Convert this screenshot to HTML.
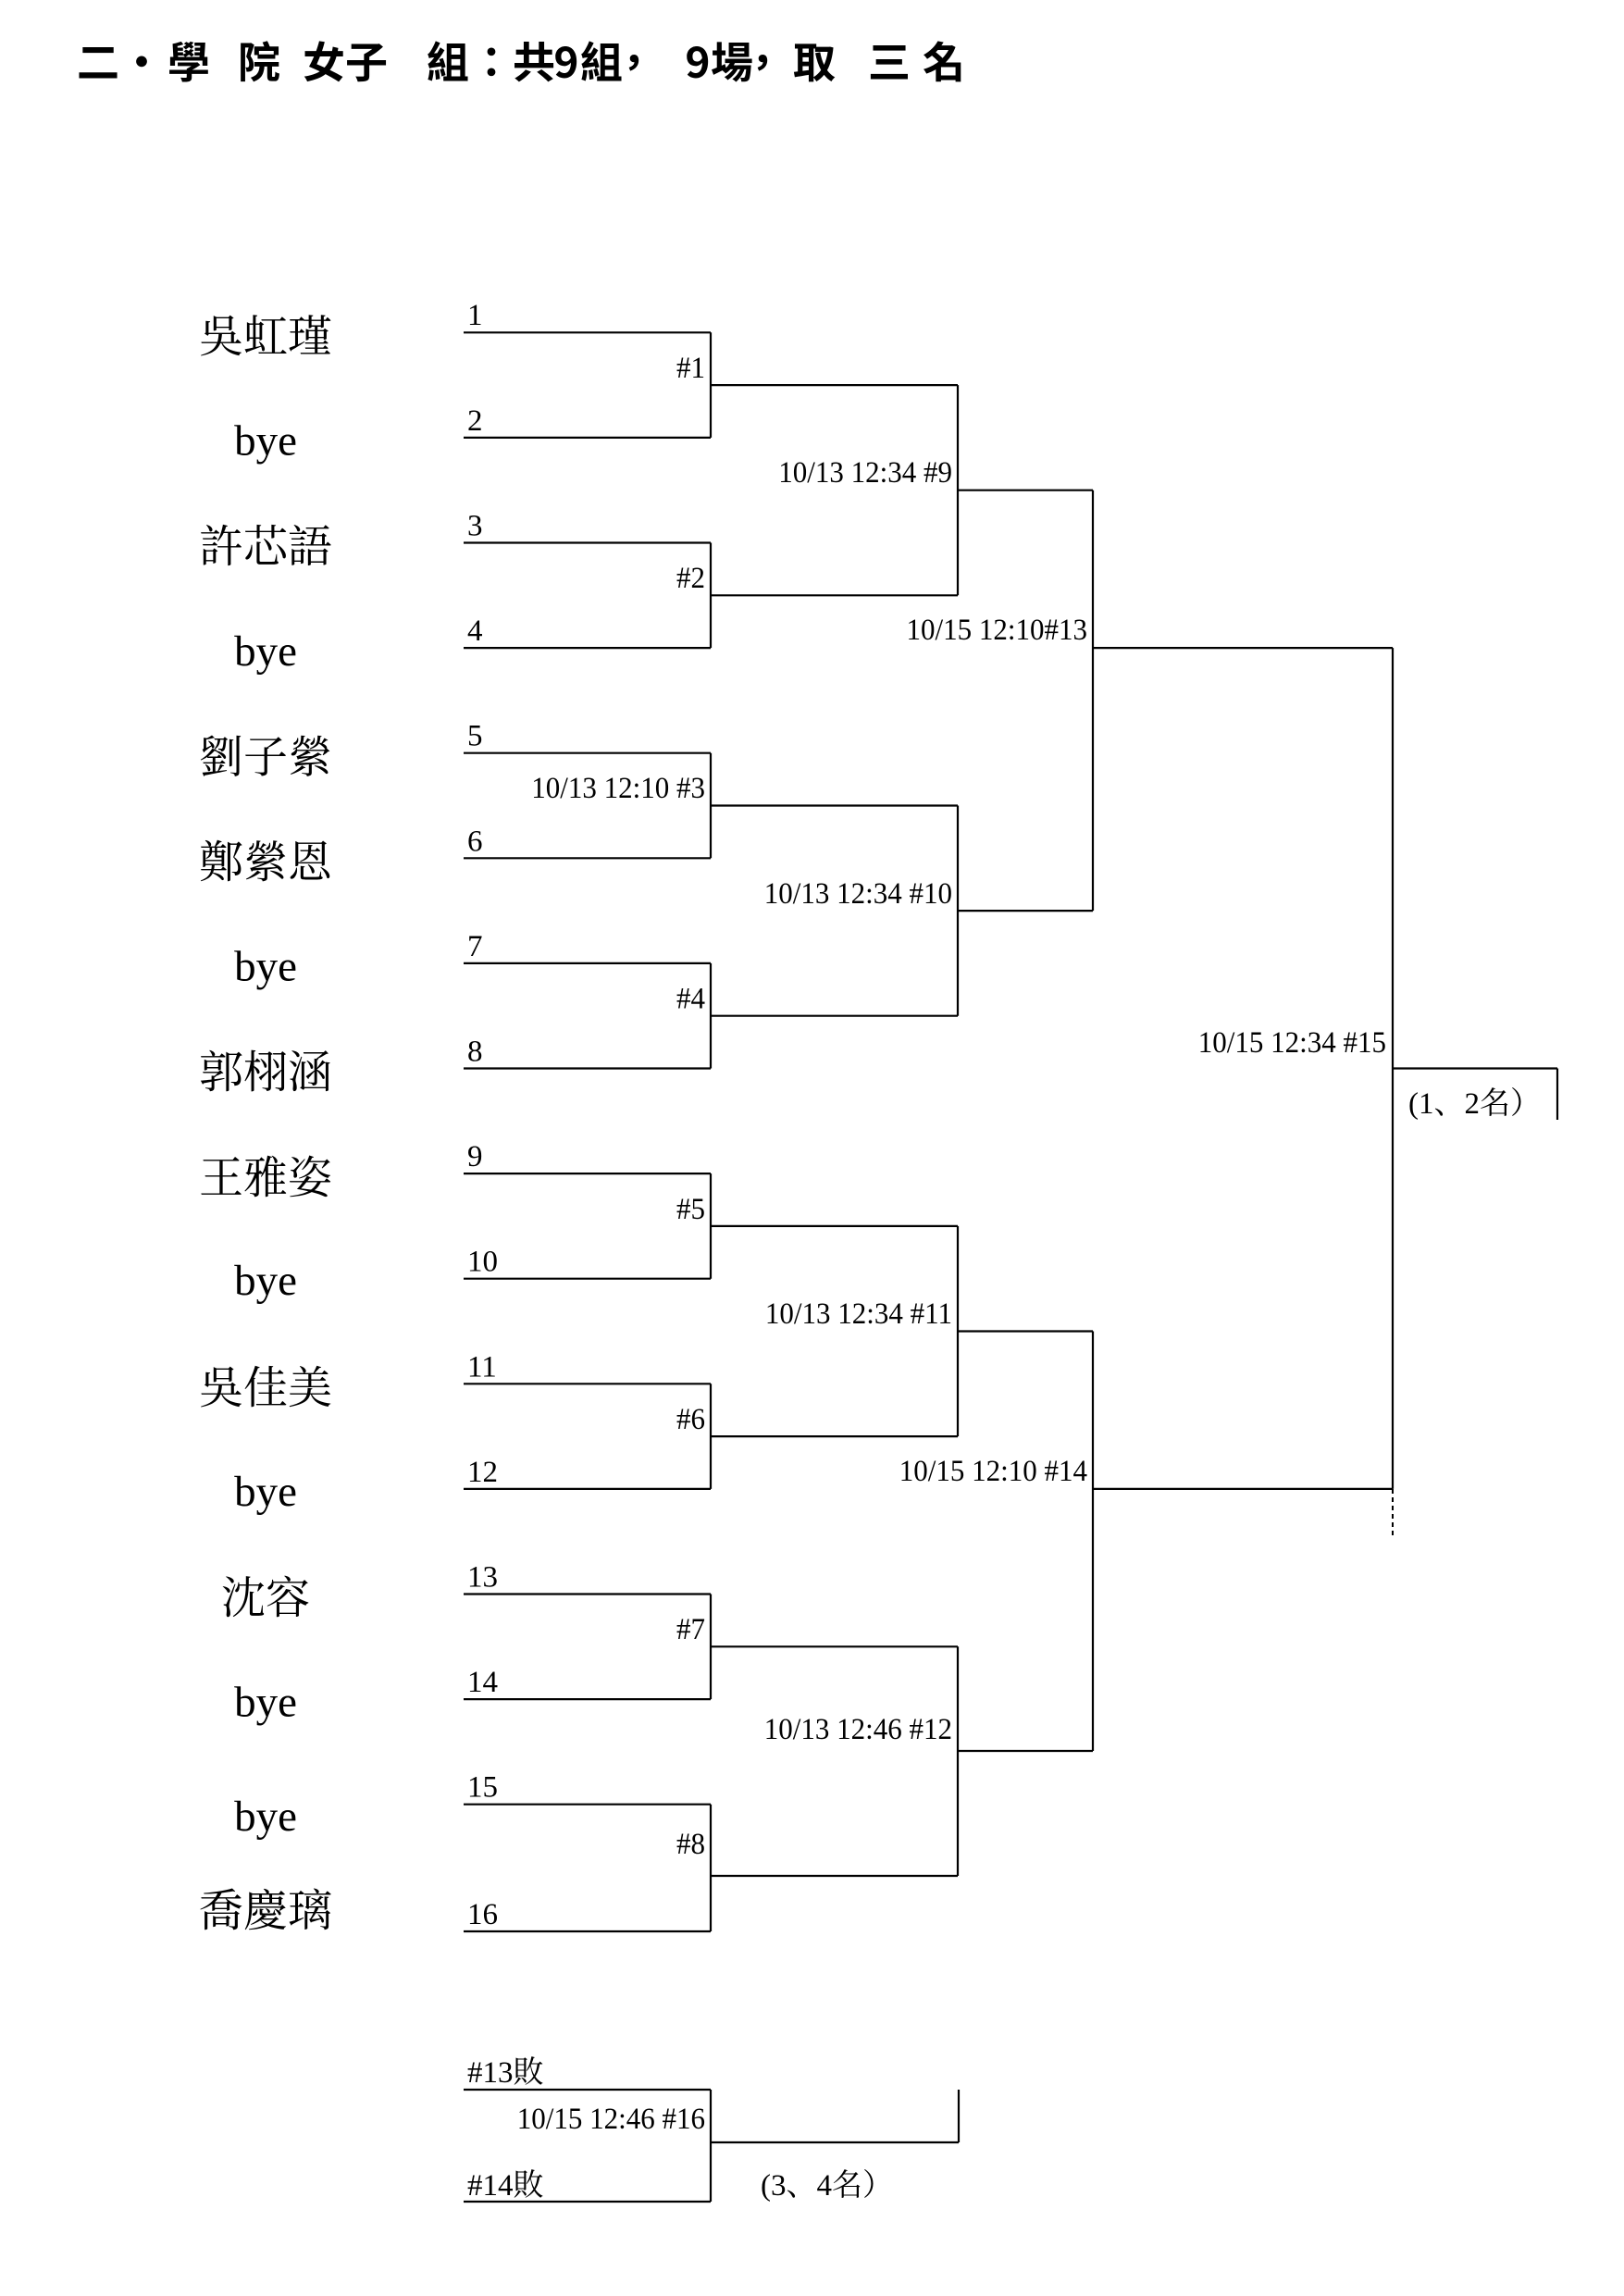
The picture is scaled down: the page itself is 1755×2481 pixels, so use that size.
<!DOCTYPE html>
<html>
<head>
<meta charset="utf-8">
<style>
  html, body { margin: 0; padding: 0; background: #fff; }
  body { width: 1755px; height: 2481px; overflow: hidden; }
  svg { display: block; }
  .title { font-family: "Noto Sans CJK TC", "Noto Sans CJK SC", sans-serif; font-weight: 700; font-size: 46px; fill: #000; }
  .name { font-family: "Liberation Serif", "Noto Serif CJK SC", serif; font-size: 48px; fill: #000; }
  .bye { font-family: "Liberation Serif", serif; font-size: 47px; fill: #000; }
  .lbl { font-family: "Liberation Serif", "Noto Serif CJK SC", serif; font-size: 33px; fill: #000; }
  .ln { stroke: #000; stroke-width: 2.2; fill: none; }
</style>
</head>
<body>
<svg width="1755" height="2481" viewBox="0 0 1755 2481" xmlns="http://www.w3.org/2000/svg">
  <rect x="0" y="0" width="1755" height="2481" fill="#fff"/>

  <!-- Title -->
  <g class="title" text-anchor="middle">
    <text x="106" y="84">二</text>
    <text x="153" y="84">·</text>
    <text x="204" y="84">學</text>
    <text x="280" y="84">院</text>
    <text x="350" y="84">女</text>
    <text x="396" y="84">子</text>
    <text x="484" y="84">組</text>
    <text x="531" y="84">：</text>
    <text x="577" y="84">共</text>
    <text x="612" y="84">9</text>
    <text x="650" y="84">組</text>
    <text x="685" y="84">，</text>
    <text x="754" y="84">9</text>
    <text x="791" y="84">場</text>
    <text x="824" y="84">，</text>
    <text x="880" y="84">取</text>
    <text x="961" y="84">三</text>
    <text x="1020" y="84">名</text>
  </g>

  <!-- Names -->
  <g text-anchor="middle">
    <text class="name" x="287" y="380">吳虹瑾</text>
    <text class="bye" x="287" y="491.6">bye</text>
    <text class="name" x="287" y="607.2">許芯語</text>
    <text class="bye" x="287" y="718.8">bye</text>
    <text class="name" x="287" y="834.4">劉子縈</text>
    <text class="name" x="287" y="948">鄭縈恩</text>
    <text class="bye" x="287" y="1059.6">bye</text>
    <text class="name" x="287" y="1175.2">郭栩涵</text>
    <text class="name" x="287" y="1288.8">王雅姿</text>
    <text class="bye" x="287" y="1399">bye</text>
    <text class="name" x="287" y="1516">吳佳美</text>
    <text class="bye" x="287" y="1627">bye</text>
    <text class="name" x="287" y="1743">沈容</text>
    <text class="bye" x="287" y="1854.4">bye</text>
    <text class="bye" x="287" y="1978">bye</text>
    <text class="name" x="287" y="2081">喬慶璃</text>
  </g>

  <!-- Slot numbers -->
  <g class="lbl">
    <text x="505" y="351">1</text>
    <text x="505" y="464.9">2</text>
    <text x="505" y="578.5">3</text>
    <text x="505" y="692.1">4</text>
    <text x="505" y="805.7">5</text>
    <text x="505" y="919.3">6</text>
    <text x="505" y="1032.9">7</text>
    <text x="505" y="1146.5">8</text>
    <text x="505" y="1260.1">9</text>
    <text x="505" y="1373.7">10</text>
    <text x="505" y="1487.3">11</text>
    <text x="505" y="1600.9">12</text>
    <text x="505" y="1714.5">13</text>
    <text x="505" y="1828.1">14</text>
    <text x="505" y="1941.7">15</text>
    <text x="505" y="2079">16</text>
  </g>

  <!-- Bracket lines -->
  <g class="ln">
    <line x1="501" y1="359.3" x2="768" y2="359.3"/>
    <line x1="501" y1="472.9" x2="768" y2="472.9"/>
    <line x1="501" y1="586.5" x2="768" y2="586.5"/>
    <line x1="501" y1="700.1" x2="768" y2="700.1"/>
    <line x1="501" y1="813.7" x2="768" y2="813.7"/>
    <line x1="501" y1="927.3" x2="768" y2="927.3"/>
    <line x1="501" y1="1040.9" x2="768" y2="1040.9"/>
    <line x1="501" y1="1154.5" x2="768" y2="1154.5"/>
    <line x1="501" y1="1268.1" x2="768" y2="1268.1"/>
    <line x1="501" y1="1381.7" x2="768" y2="1381.7"/>
    <line x1="501" y1="1495.3" x2="768" y2="1495.3"/>
    <line x1="501" y1="1608.9" x2="768" y2="1608.9"/>
    <line x1="501" y1="1722.5" x2="768" y2="1722.5"/>
    <line x1="501" y1="1836.1" x2="768" y2="1836.1"/>
    <line x1="501" y1="1949.7" x2="768" y2="1949.7"/>
    <line x1="501" y1="2087" x2="768" y2="2087"/>

    <line x1="768" y1="359.3" x2="768" y2="472.9"/>
    <line x1="768" y1="586.5" x2="768" y2="700.1"/>
    <line x1="768" y1="813.7" x2="768" y2="927.3"/>
    <line x1="768" y1="1040.9" x2="768" y2="1154.5"/>
    <line x1="768" y1="1268.1" x2="768" y2="1381.7"/>
    <line x1="768" y1="1495.3" x2="768" y2="1608.9"/>
    <line x1="768" y1="1722.5" x2="768" y2="1836.1"/>
    <line x1="768" y1="1949.7" x2="768" y2="2087"/>

    <line x1="768" y1="416.1" x2="1035" y2="416.1"/>
    <line x1="768" y1="643.3" x2="1035" y2="643.3"/>
    <line x1="768" y1="870.5" x2="1035" y2="870.5"/>
    <line x1="768" y1="1097.7" x2="1035" y2="1097.7"/>
    <line x1="768" y1="1324.9" x2="1035" y2="1324.9"/>
    <line x1="768" y1="1552.1" x2="1035" y2="1552.1"/>
    <line x1="768" y1="1779.3" x2="1035" y2="1779.3"/>
    <line x1="768" y1="2027" x2="1035" y2="2027"/>

    <line x1="1035" y1="416.1" x2="1035" y2="643.3"/>
    <line x1="1035" y1="870.5" x2="1035" y2="1097.7"/>
    <line x1="1035" y1="1324.9" x2="1035" y2="1552.1"/>
    <line x1="1035" y1="1779.3" x2="1035" y2="2027"/>

    <line x1="1035" y1="529.7" x2="1181" y2="529.7"/>
    <line x1="1035" y1="984.1" x2="1181" y2="984.1"/>
    <line x1="1035" y1="1438.5" x2="1181" y2="1438.5"/>
    <line x1="1035" y1="1892" x2="1181" y2="1892"/>

    <line x1="1181" y1="529.7" x2="1181" y2="984.1"/>
    <line x1="1181" y1="1438.5" x2="1181" y2="1892"/>

    <line x1="1181" y1="700.1" x2="1505" y2="700.1"/>
    <line x1="1181" y1="1608.9" x2="1505" y2="1608.9"/>

    <line x1="1505" y1="700.1" x2="1505" y2="1608.9"/>

    <line x1="1505" y1="1154.5" x2="1683" y2="1154.5"/>
    <line x1="1683" y1="1154.5" x2="1683" y2="1210"/>

    <line x1="501" y1="2258" x2="768" y2="2258"/>
    <line x1="501" y1="2379" x2="768" y2="2379"/>
    <line x1="768" y1="2258" x2="768" y2="2379"/>
    <line x1="768" y1="2315" x2="1036" y2="2315"/>
    <line x1="1036" y1="2258" x2="1036" y2="2315"/>
  </g>
  <line x1="1505" y1="1609" x2="1505" y2="1663" stroke="#000" stroke-width="2" stroke-dasharray="5,4"/>

  <!-- Match labels (slightly condensed) -->
  <g class="lbl" text-anchor="end">
    <text transform="translate(762,408) scale(0.94,1)">#1</text>
    <text transform="translate(762,635) scale(0.94,1)">#2</text>
    <text transform="translate(762,862) scale(0.94,1)">10/13 12:10 #3</text>
    <text transform="translate(762,1089.5) scale(0.94,1)">#4</text>
    <text transform="translate(762,1317) scale(0.94,1)">#5</text>
    <text transform="translate(762,1544) scale(0.94,1)">#6</text>
    <text transform="translate(762,1771) scale(0.94,1)">#7</text>
    <text transform="translate(762,2003) scale(0.94,1)">#8</text>

    <text transform="translate(1029,521) scale(0.94,1)">10/13 12:34 #9</text>
    <text transform="translate(1029,976) scale(0.94,1)">10/13 12:34 #10</text>
    <text transform="translate(1029,1430) scale(0.94,1)">10/13 12:34 #11</text>
    <text transform="translate(1029,1879) scale(0.94,1)">10/13 12:46 #12</text>

    <text transform="translate(1175,691) scale(0.94,1)">10/15 12:10#13</text>
    <text transform="translate(1175,1600) scale(0.94,1)">10/15 12:10 #14</text>

    <text transform="translate(1498,1137) scale(0.94,1)">10/15 12:34 #15</text>

    <text transform="translate(762,2300) scale(0.94,1)">10/15 12:46 #16</text>
  </g>

  <g class="lbl">
    <text x="1522" y="1203">(1、2名）</text>
    <text x="505" y="2250">#13敗</text>
    <text x="505" y="2372">#14敗</text>
    <text x="822" y="2372">(3、4名）</text>
  </g>
</svg>
</body>
</html>
